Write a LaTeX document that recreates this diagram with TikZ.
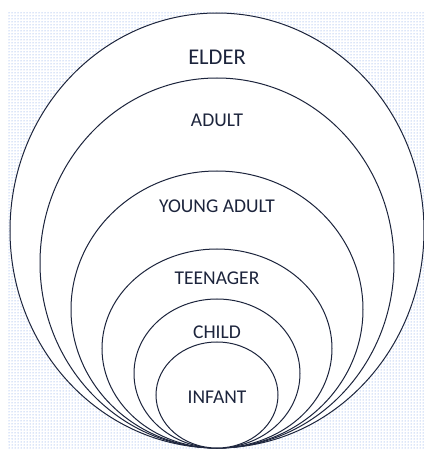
\documentclass[tikz,border=0pt]{standalone}
\usepackage{fontspec}
\setmainfont{Carlito}
\usetikzlibrary{patterns}
\definecolor{ringline}{RGB}{28,36,60}
\definecolor{dotblue}{RGB}{105,145,225}
\tikzset{
ring/.style={fill=white, draw=ringline, line width=1pt},
stage/.style={text=ringline, font=\fontsize{19.5}{22}\selectfont, inner sep=0pt}
}

\begin{document}
\begin{tikzpicture}[x=1pt,y=1pt]
\useasboundingbox (0,0) rectangle (424,451);
\fill[pattern=dots, pattern color=dotblue] (8,2) rectangle (424,439);

% rings, biggest first, all touching at the bottom
\foreach \rx/\ry in {207/217.5, 177/185, 146/138.5, 115/99.5, 83/74.5, 61/53}
  \draw[ring] (217,{3+\ry}) ellipse ({\rx} and {\ry});

\node[stage, font=\fontsize{22.5}{26}\selectfont] (elder) at (217,394) {ELDER};
\node[stage] (adult) at (217,331) {ADULT};
\node[stage] (young) at (217,245) {YOUNG ADULT};
\node[stage] (teen) at (217,173) {TEENAGER};
\node[stage] (child) at (217,119) {CHILD};
\node[stage] (infant) at (217,54) {INFANT};
\end{tikzpicture}
\end{document}
